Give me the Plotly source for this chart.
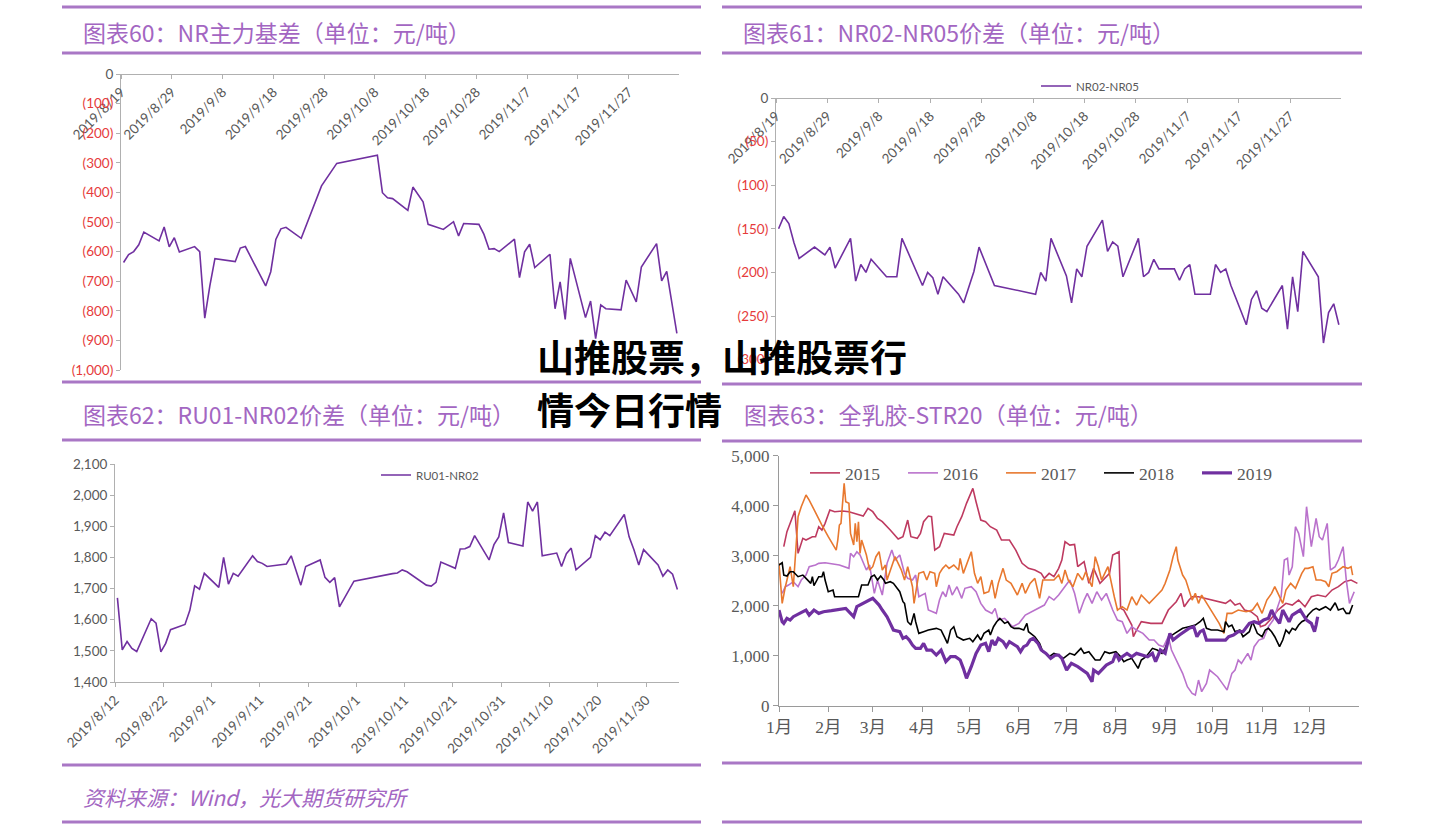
import plotly.graph_objects as go
import pandas as pd

W, H = 1440, 827

# ---------------- 图表60: NR主力基差 ----------------
nr_basis_dates = ["2019-08-19","2019-08-20","2019-08-21","2019-08-22","2019-08-23","2019-08-26","2019-08-27","2019-08-28","2019-08-29","2019-08-30",
                  "2019-09-02","2019-09-03","2019-09-04","2019-09-05","2019-09-06","2019-09-10","2019-09-11","2019-09-12","2019-09-16","2019-09-17",
                  "2019-09-18","2019-09-19","2019-09-20","2019-09-23","2019-09-27","2019-09-30","2019-10-08","2019-10-09","2019-10-10","2019-10-11",
                  "2019-10-14","2019-10-15","2019-10-17","2019-10-18","2019-10-21","2019-10-23","2019-10-24","2019-10-25","2019-10-28","2019-10-29",
                  "2019-10-30","2019-10-31","2019-11-01","2019-11-04","2019-11-05","2019-11-06","2019-11-07","2019-11-08","2019-11-11","2019-11-12",
                  "2019-11-13","2019-11-14","2019-11-15","2019-11-18","2019-11-19","2019-11-20","2019-11-21","2019-11-22","2019-11-25","2019-11-26",
                  "2019-11-28","2019-11-29","2019-12-02","2019-12-03","2019-12-04","2019-12-06"]
nr_basis_values = [-637,-610,-600,-577,-534,-564,-517,-584,-553,-601,
                   -583,-600,-825,-716,-624,-634,-588,-583,-716,-668,
                   -559,-523,-518,-555,-378,-302,-274,-401,-418,-421,
                   -461,-382,-432,-508,-525,-499,-547,-505,-508,-542,
                   -592,-590,-600,-558,-688,-601,-575,-654,-609,-793,
                   -702,-829,-623,-823,-767,-894,-780,-793,-797,-696,
                   -770,-652,-573,-699,-667,-876]
nr_basis_yticks = [0,-100,-200,-300,-400,-500,-600,-700,-800,-900,-1000]
nr_basis_ylabels = ["0","(100)","(200)","(300)","(400)","(500)","(600)","(700)","(800)","(900)","(1,000)"]

# ---------------- 图表61: NR02-NR05价差 ----------------
nr0205_dates = ["2019-08-19","2019-08-20","2019-08-21","2019-08-22","2019-08-23","2019-08-26","2019-08-28","2019-08-29","2019-08-30",
                "2019-09-02","2019-09-03","2019-09-04","2019-09-05","2019-09-06","2019-09-09","2019-09-11","2019-09-12","2019-09-16","2019-09-17",
                "2019-09-18","2019-09-19","2019-09-20","2019-09-23","2019-09-24","2019-09-26","2019-09-27","2019-09-30","2019-10-08","2019-10-09",
                "2019-10-10","2019-10-11","2019-10-14","2019-10-15","2019-10-16","2019-10-17","2019-10-18","2019-10-21","2019-10-22","2019-10-23",
                "2019-10-24","2019-10-25","2019-10-28","2019-10-29","2019-10-30","2019-10-31","2019-11-01","2019-11-04","2019-11-05","2019-11-06",
                "2019-11-07","2019-11-08","2019-11-11","2019-11-12","2019-11-13","2019-11-14","2019-11-15","2019-11-18","2019-11-19","2019-11-20",
                "2019-11-21","2019-11-22","2019-11-25","2019-11-26","2019-11-27","2019-11-28","2019-11-29","2019-12-02","2019-12-03","2019-12-04",
                "2019-12-05","2019-12-06"]
nr0205_values = [-150,-136,-144,-166,-184,-171,-180,-171,-195,-161,
                 -210,-191,-200,-185,-205,-205,-161,-215,-200,-206,
                 -225,-205,-225,-235,-199,-171,-215,-225,-200,-210,
                 -161,-204,-235,-196,-205,-170,-140,-176,-165,-170,
                 -205,-161,-205,-200,-185,-196,-196,-209,-196,-191,
                 -225,-225,-191,-200,-196,-215,-260,-231,-221,-241,
                 -245,-215,-265,-205,-245,-176,-205,-281,-246,-236,
                 -260]
nr0205_yticks = [0,-50,-100,-150,-200,-250,-300]
nr0205_ylabels = ["0","(50)","(100)","(150)","(200)","(250)","(300)"]

# ---------------- 图表62: RU01-NR02价差 ----------------
ru01nr02_dates = ["2019-08-12","2019-08-13","2019-08-14","2019-08-15","2019-08-16","2019-08-19","2019-08-20","2019-08-21","2019-08-22","2019-08-23",
                  "2019-08-26","2019-08-27","2019-08-28","2019-08-29","2019-08-30","2019-09-02","2019-09-03","2019-09-04","2019-09-05","2019-09-06",
                  "2019-09-09","2019-09-10","2019-09-11","2019-09-12","2019-09-16","2019-09-17","2019-09-19","2019-09-20","2019-09-23","2019-09-24",
                  "2019-09-25","2019-09-26","2019-09-27","2019-09-30","2019-10-08","2019-10-09","2019-10-10","2019-10-11","2019-10-15","2019-10-16",
                  "2019-10-17","2019-10-18","2019-10-21","2019-10-22","2019-10-23","2019-10-24","2019-10-25","2019-10-28","2019-10-29","2019-10-30",
                  "2019-10-31","2019-11-01","2019-11-04","2019-11-05","2019-11-06","2019-11-07","2019-11-08","2019-11-11","2019-11-12","2019-11-13",
                  "2019-11-14","2019-11-15","2019-11-18","2019-11-19","2019-11-20","2019-11-21","2019-11-22","2019-11-25","2019-11-26","2019-11-27",
                  "2019-11-28","2019-11-29","2019-12-02","2019-12-03","2019-12-04","2019-12-05","2019-12-06"]
ru01nr02_values = [1670,1503,1530,1508,1498,1603,1589,1497,1524,1568,
                   1585,1630,1709,1698,1749,1704,1800,1714,1749,1740,
                   1805,1787,1781,1771,1779,1805,1711,1771,1792,1736,
                   1720,1735,1641,1724,1748,1750,1760,1754,1711,1708,
                   1720,1785,1765,1827,1828,1835,1870,1792,1841,1866,
                   1943,1848,1837,1978,1949,1978,1805,1814,1771,1812,
                   1830,1760,1800,1870,1857,1881,1870,1938,1866,1825,
                   1776,1825,1776,1740,1760,1746,1697]

# ---------------- 图表63: 全乳胶-STR20 (day of year) ----------------
month_tick_days = [0,31,59,90,120,151,181,212,243,273,304,334]
month_labels = ["1月","2月","3月","4月","5月","6月","7月","8月","9月","10月","11月","12月"]

d2015 = [3,5,10,12,15,17,21,23,25,27,29,32,35,40,44,53,56,59,62,65,70,75,78,81,83,87,89,91,94,96,98,101,104,110,112,115,118,122,124,127,
         130,133,137,140,145,149,153,157,161,165,167,170,173,176,178,180,183,186,188,192,195,198,202,208,210,214,215,217,222,223,
         225,228,234,241,245,250,253,255,258,260,264,272,281,284,287,290,293,297,301,303,306,309,314,319,323,327,331,335,339,344,
         348,352,356,360,364]
v2015 = [3180,3480,3900,3047,3347,3313,3380,3380,3580,3513,3647,3913,3880,3893,3880,3793,3947,3880,3747,3680,
         3513,3333,3380,3713,3380,3347,3447,3680,3793,3780,3113,3180,3447,3413,3580,3780,4047,4347,4080,3713,
         3680,3580,3513,3313,3313,3113,2847,2747,2713,2647,2547,2647,2580,2747,2913,3280,3213,3227,2780,2880,
         2447,2747,2447,2647,3013,3080,1947,1913,1613,1380,1513,1680,1647,1647,1913,2080,2247,1980,2113,2180,
         2180,2113,2047,2113,2013,2047,1913,1880,1780,1580,1613,1713,1913,2047,2013,2113,1980,2180,2213,2180,
         2313,2380,2480,2513,2447]

d2016 = [2,4,6,9,12,14,17,19,23,25,29,38,44,45,47,49,51,55,57,60,62,65,68,71,73,76,79,81,84,86,
         88,92,94,99,101,103,105,107,109,112,115,117,121,124,127,130,134,136,138,142,147,151,155,159,164,167,170,173,176,180,
         183,186,189,192,194,197,200,203,206,210,213,216,219,222,225,229,233,236,239,242,245,247,250,254,257,260,262,264,266,269,
         271,276,279,282,285,287,289,291,295,297,299,302,305,308,311,316,318,320,321,323,325,327,330,332,335,338,340,342,345,347,
         350,352,355,357,359,362]
v2016 = [2247,2380,2413,2480,2380,2513,2613,2780,2813,2847,2860,2813,2747,3047,2980,3080,3013,2713,2813,2247,
         2513,2213,2847,3113,2913,3013,2647,2547,2513,2613,2180,2247,1913,1847,2113,2280,2180,2413,2213,2380,
         2147,2347,2380,2280,2047,1913,1847,1947,1713,1747,1580,1647,1813,1880,1947,2013,2180,2113,2213,2380,
         2513,2247,1847,2113,2247,2047,2280,2113,2247,1913,1713,1680,1447,1580,1513,1447,1313,1313,1213,1180,
         1380,1113,913,647,380,247,213,513,280,447,713,580,447,313,647,713,913,847,1047,913,
         1180,1313,1347,1580,1713,2180,2913,2947,2613,2780,3580,3447,2980,3980,3180,3747,3380,3313,3647,2713,
         2780,2913,3180,2513,2047,2280]

d2017 = [0,2,4,6,7,9,11,12,14,17,19,23,27,31,36,37,38,39,40,41,42,44,45,47,48,49,50,51,52,55,
         57,59,61,63,65,67,68,71,73,77,79,81,84,85,88,91,93,95,98,99,101,103,105,107,110,113,114,116,120,121,
         123,125,127,129,132,134,136,138,141,143,146,150,153,155,158,161,164,166,170,173,176,178,180,182,185,188,191,193,195,197,
         199,201,203,205,207,211,213,216,219,222,225,228,233,237,241,243,246,248,250,251,254,256,258,260,262,264,266,268,273,277,
         280,282,285,289,294,298,301,304,307,310,312,315,317,319,322,325,327,329,331,333,336,338,341,344,346,348,351,355,358,360,361]
v2017 = [2847,2047,2380,2647,2780,2380,3247,3780,3980,4213,4113,3847,3613,3380,3113,3313,3613,3647,4013,4447,
         4080,4047,3447,3213,3647,3280,3680,3047,3313,3013,2713,2780,2980,3080,2713,2813,2513,2813,2980,2713,
         2513,2780,2380,2047,2647,2680,2513,2680,2647,2380,2647,2747,2813,2747,2813,2713,2947,2647,2980,3080,
         2647,2447,2580,2247,2280,2513,2147,2447,2747,2513,2447,2213,2447,2247,2447,2547,2147,2513,2513,2513,
         2613,2447,2713,2513,2380,2647,2513,2680,2513,2380,2980,2780,2513,2647,2780,2180,1913,1980,1913,2180,
         2013,2213,2047,2180,2313,2447,2713,2980,3180,2913,2613,2513,2313,2113,2247,2047,2213,2113,1847,1647,
         1447,1847,1847,1913,1880,1913,2047,1847,2113,2247,2380,2180,2047,2313,2447,2347,2513,2647,2747,2747,
         2780,2513,2513,2480,2380,2647,2680,2780,2747,2780,2613]

d2018 = [0,2,3,5,7,9,12,15,17,20,21,22,25,27,28,29,31,34,35,42,50,52,56,58,60,62,64,66,67,70,
         72,76,78,79,81,83,85,86,88,91,94,99,102,104,106,108,110,112,116,120,122,125,127,129,132,133,135,137,139,142,
         144,146,148,151,154,156,157,161,164,166,168,170,173,176,179,183,186,190,192,195,199,202,205,208,212,215,217,219,222,226,
         228,231,235,238,241,243,246,249,254,258,262,265,267,269,272,276,280,281,283,285,287,290,292,296,298,301,304,306,308,310,
         312,315,317,319,321,323,325,327,329,331,333,336,338,340,344,347,350,352,355,357,359,361]
v2018 = [2813,2860,2613,2593,2680,2680,2580,2613,2547,2447,2580,2400,2580,2580,2680,2513,2280,2313,2180,2180,
         2180,2413,2413,2580,2613,2513,2593,2513,2447,2480,2447,2280,2080,2047,1680,1613,1847,1680,1447,1480,
         1513,1547,1513,1380,1247,1513,1580,1380,1313,1347,1280,1413,1313,1447,1513,1413,1580,1680,1747,1647,
         1680,1580,1547,1547,1513,1647,1480,1380,1247,1080,1047,980,1047,1013,947,1047,1013,1147,1047,1080,
         913,913,1080,1047,1080,980,880,913,947,747,913,980,1147,1113,1047,1147,1380,1447,1547,1580,
         1613,1680,1747,1547,1513,1513,1480,1680,1580,1613,1480,1513,1380,1480,1680,1447,1380,1513,1547,1480,
         1380,1180,1313,1513,1447,1547,1513,1613,1680,1713,1813,1913,1947,1913,1980,1913,2060,1913,1947,1847,
         1847,2013]

d2019 = [0,2,3,5,7,9,13,15,17,19,22,25,28,33,38,42,45,47,49,51,55,59,61,63,65,68,70,72,76,78,
         80,82,84,86,89,91,93,96,99,102,105,108,111,114,116,118,121,124,127,130,132,134,136,138,141,143,145,147,150,152,
         154,156,158,160,163,165,168,171,174,176,178,181,184,188,191,194,197,198,201,204,206,210,212,214,216,219,222,225,228,232,
         235,237,240,243,246,248,252,255,258,261,263,265,267,269,272,277,281,283,286,289,292,296,299,302,305,308,310,312,315,317,
         319,321,323,326,328,330,332,335,337,338,339]
v2019 = [1913,1680,1647,1747,1713,1780,1847,1880,1913,1813,1913,1847,1880,1900,1927,1947,1847,1780,1980,2013,
         2080,2147,2080,2013,1913,1780,1647,1513,1480,1347,1380,1313,1213,1147,1147,1247,1113,1113,1013,1113,
         880,980,980,913,747,547,780,1047,1213,1247,1080,1313,1213,1347,1280,1180,1280,1247,1180,1080,
         1180,1213,1313,1347,1247,1113,1047,947,1013,1013,947,713,847,780,713,647,480,713,647,747,
         813,880,1047,913,980,1047,980,1047,1013,980,1047,880,1113,1047,1447,1313,1413,1480,1547,1580,
         1380,1480,1513,1313,1313,1313,1313,1380,1413,1480,1480,1647,1680,1647,1713,1747,1913,1780,1647,1913,
         1780,1680,1813,1880,1913,1813,1713,1647,1480,1613,1780]

str20_series = [("2015", d2015, v2015, "#BE3A60", 1.6),
                ("2016", d2016, v2016, "#BA72CC", 1.6),
                ("2017", d2017, v2017, "#E8782F", 1.6),
                ("2018", d2018, v2018, "#000000", 1.6),
                ("2019", d2019, v2019, "#7030A0", 3.2)]

# ---------------- styles ----------------
PURPLE = "#7030A0"
GRAY = "#595959"
AXIS = "#B0B0B0"
RED = "#E63B3B"
TITLE_C = "#A366C2"
SEP_C = "#A977C5"
SANS = "Lato, Open Sans, sans-serif"
SERIF = "Liberation Serif, Noto Sans CJK SC, serif"
CJK = "Noto Sans CJK SC"

def px(x):
    return x / W

def py(y):
    return 1 - y / H

def noon(dates):
    return pd.to_datetime(dates) + pd.Timedelta(hours=12)

def red_labels(labels):
    return ["<span style='color:%s'>%s</span>" % (GRAY, t) if t == "0" else t for t in labels]

DAY_MS = 86400000
fig = go.Figure()

fig.add_trace(go.Scatter(x=noon(nr_basis_dates), y=nr_basis_values, mode="lines",
                         line=dict(color=PURPLE, width=1.6), showlegend=False,
                         xaxis="x", yaxis="y"))
fig.add_trace(go.Scatter(x=noon(nr0205_dates), y=nr0205_values, mode="lines", name="NR02-NR05",
                         line=dict(color=PURPLE, width=1.6), legend="legend",
                         xaxis="x2", yaxis="y2"))
fig.add_trace(go.Scatter(x=noon(ru01nr02_dates), y=ru01nr02_values, mode="lines", name="RU01-NR02",
                         line=dict(color=PURPLE, width=1.6), legend="legend2",
                         xaxis="x3", yaxis="y3"))
for name, dx, vy, col, wd in str20_series:
    fig.add_trace(go.Scatter(x=dx, y=vy, mode="lines", name=name,
                             line=dict(color=col, width=wd), legend="legend3",
                             xaxis="x4", yaxis="y4"))

date_axis = dict(type="date", tickformat="%Y/%-m/%-d", tickangle=-45, dtick=10 * DAY_MS,
                 showline=True, linecolor=AXIS, linewidth=1, ticks="outside", ticklen=4,
                 tickcolor=AXIS, showgrid=False, zeroline=False, automargin=False,
                 tickfont=dict(family=SANS, size=13.5, color=GRAY))
val_axis = dict(showline=True, linecolor=AXIS, linewidth=1, ticks="outside", ticklen=4,
                tickcolor=AXIS, showgrid=False, zeroline=False, automargin=False)

fig.update_layout(
    xaxis=dict(date_axis, domain=[px(121), px(679)], anchor="free", position=py(74), side="bottom",
               range=["2019-08-19", "2019-12-06 22:00"], tick0="2019-08-19"),
    yaxis=dict(val_axis, domain=[py(370), py(74)], anchor="x", range=[-1000, 0],
               tickvals=nr_basis_yticks, ticktext=red_labels(nr_basis_ylabels),
               tickfont=dict(family=SANS, size=13.5, color=RED)),
    xaxis2=dict(date_axis, domain=[px(776), px(1341)], anchor="free", position=py(98), side="bottom",
                range=["2019-08-19", "2019-12-06 22:00"], tick0="2019-08-19"),
    yaxis2=dict(val_axis, domain=[py(359.6), py(98)], anchor="x2", range=[-300, 0],
                tickvals=nr0205_yticks, ticktext=red_labels(nr0205_ylabels),
                tickfont=dict(family=SANS, size=13.5, color=RED)),
    xaxis3=dict(date_axis, domain=[px(115), px(679)], anchor="y3",
                range=["2019-08-12", "2019-12-06 20:00"], tick0="2019-08-12"),
    yaxis3=dict(val_axis, domain=[py(682), py(464)], anchor="x3", range=[1400, 2100], dtick=100,
                tickformat=",d", tickfont=dict(family=SANS, size=13.5, color=GRAY)),
    xaxis4=dict(val_axis, domain=[px(779), px(1359)], anchor="y4", range=[0, 365],
                tickvals=month_tick_days, ticktext=month_labels, ticklen=5,
                linecolor="#9A9A9A", tickcolor="#9A9A9A",
                tickfont=dict(family=SERIF, size=17.5, color=GRAY)),
    yaxis4=dict(val_axis, domain=[py(705.7), py(455.7)], anchor="x4", range=[0, 5000], dtick=1000,
                tickformat=",d", ticklen=5, linecolor="#9A9A9A", tickcolor="#9A9A9A",
                tickfont=dict(family=SERIF, size=17, color=GRAY)),
    legend=dict(x=px(1036), y=py(86), xanchor="left", yanchor="middle", orientation="h",
                bgcolor="rgba(0,0,0,0)", font=dict(family=SANS, size=11.5, color=GRAY)),
    legend2=dict(x=px(376), y=py(475), xanchor="left", yanchor="middle", orientation="h",
                 bgcolor="rgba(0,0,0,0)", font=dict(family=SANS, size=11.5, color=GRAY)),
    legend3=dict(x=px(805), y=py(473), xanchor="left", yanchor="middle", orientation="h",
                 entrywidth=53, entrywidthmode="pixels",
                 bgcolor="rgba(0,0,0,0)", font=dict(family=SERIF, size=17.5, color=GRAY)),
    width=W, height=H, margin=dict(l=0, r=0, t=0, b=0, pad=0, autoexpand=False),
    paper_bgcolor="white", plot_bgcolor="white",
)

# separator lines of the report layout
seps = [(62, 701, 7), (722, 1362, 7), (62, 701, 53), (722, 1362, 53),
        (62, 701, 382), (722, 1362, 384), (62, 701, 440), (722, 1362, 441),
        (62, 701, 765), (722, 1362, 763), (62, 701, 822), (722, 1362, 822)]
for x0, x1, yy in seps:
    fig.add_shape(type="line", xref="paper", yref="paper", x0=px(x0), x1=px(x1), y0=py(yy), y1=py(yy),
                  line=dict(color=SEP_C, width=3), layer="below")

titles = [("图表60：NR主力基差（单位：元/吨）", 81, 32),
          ("图表61：NR02-NR05价差（单位：元/吨）", 741, 32),
          ("图表62：RU01-NR02价差（单位：元/吨）", 81, 414),
          ("图表63：全乳胶-STR20（单位：元/吨）", 742, 414)]
for txt, x, y in titles:
    fig.add_annotation(text=txt, xref="paper", yref="paper", x=px(x), y=py(y), xanchor="left",
                       yanchor="middle", showarrow=False,
                       font=dict(family=CJK, size=23, color=TITLE_C))

fig.add_annotation(text="<i>资料来源：Wind，光大期货研究所</i>", xref="paper", yref="paper",
                   x=px(81), y=py(797), xanchor="left", yanchor="middle", showarrow=False,
                   font=dict(family=CJK, size=21, color=TITLE_C))

fig.add_annotation(text="<b>山推股票，山推股票行</b>", xref="paper", yref="paper",
                   x=px(535), y=py(356), xanchor="left", yanchor="middle", showarrow=False,
                   font=dict(family=CJK, size=37, color="#000000"))
fig.add_annotation(text="<b>情今日行情</b>", xref="paper", yref="paper",
                   x=px(535), y=py(409), xanchor="left", yanchor="middle", showarrow=False,
                   font=dict(family=CJK, size=37, color="#000000"))

fig.write_html("out.html", config={"displayModeBar": False},
               post_script="document.body.style.margin='0px';document.body.style.overflow='hidden';")
